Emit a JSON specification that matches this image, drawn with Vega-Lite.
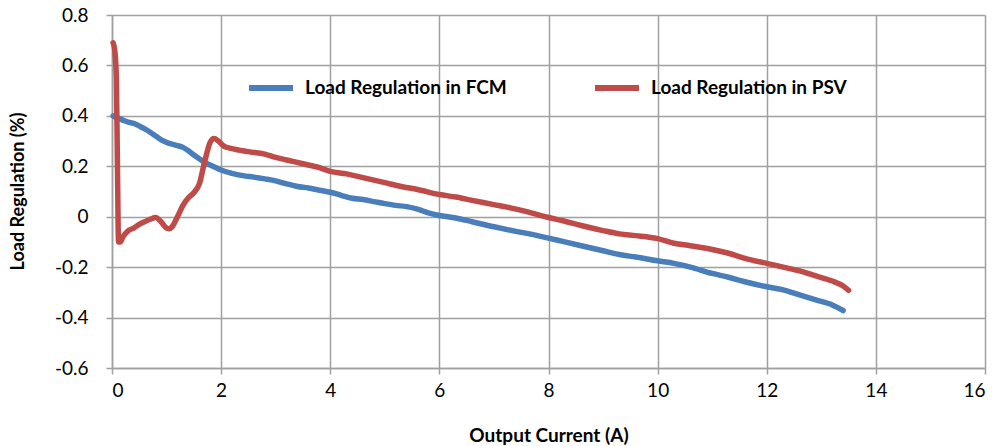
{
  "$schema": "https://vega.github.io/schema/vega-lite/v6.json",
  "width": 873,
  "height": 353,
  "autosize": {"type": "none"},
  "padding": {"left": 112, "top": 15, "right": 10, "bottom": 78},
  "background": "white",
  "config": {
    "view": {"stroke": null},
    "font": "Lato"
  },
  "datasets": {
    "fcm": [
      {"x": 0.02, "y": 0.40}, {"x": 0.1, "y": 0.392}, {"x": 0.2, "y": 0.383}, {"x": 0.3, "y": 0.375},
      {"x": 0.4, "y": 0.37}, {"x": 0.5, "y": 0.36}, {"x": 0.6, "y": 0.348}, {"x": 0.7, "y": 0.335},
      {"x": 0.8, "y": 0.32}, {"x": 0.9, "y": 0.305}, {"x": 1.0, "y": 0.295}, {"x": 1.1, "y": 0.288},
      {"x": 1.2, "y": 0.282}, {"x": 1.3, "y": 0.275}, {"x": 1.4, "y": 0.262}, {"x": 1.5, "y": 0.245},
      {"x": 1.6, "y": 0.23}, {"x": 1.7, "y": 0.215}, {"x": 1.8, "y": 0.205}, {"x": 1.9, "y": 0.195},
      {"x": 2.0, "y": 0.185}, {"x": 2.2, "y": 0.172}, {"x": 2.4, "y": 0.163}, {"x": 2.6, "y": 0.157},
      {"x": 2.8, "y": 0.15}, {"x": 3.0, "y": 0.142}, {"x": 3.2, "y": 0.13}, {"x": 3.4, "y": 0.12},
      {"x": 3.6, "y": 0.114}, {"x": 3.8, "y": 0.105}, {"x": 4.0, "y": 0.097}, {"x": 4.2, "y": 0.085},
      {"x": 4.4, "y": 0.073}, {"x": 4.6, "y": 0.068}, {"x": 4.8, "y": 0.06}, {"x": 5.0, "y": 0.052},
      {"x": 5.2, "y": 0.045}, {"x": 5.4, "y": 0.04}, {"x": 5.6, "y": 0.03}, {"x": 5.8, "y": 0.015},
      {"x": 6.0, "y": 0.005}, {"x": 6.3, "y": -0.005}, {"x": 6.6, "y": -0.02}, {"x": 7.0, "y": -0.04},
      {"x": 7.4, "y": -0.058}, {"x": 7.7, "y": -0.07}, {"x": 8.0, "y": -0.085}, {"x": 8.3, "y": -0.1},
      {"x": 8.6, "y": -0.115}, {"x": 9.0, "y": -0.135}, {"x": 9.3, "y": -0.15}, {"x": 9.6, "y": -0.16},
      {"x": 10.0, "y": -0.175}, {"x": 10.3, "y": -0.185}, {"x": 10.6, "y": -0.2}, {"x": 11.0, "y": -0.225},
      {"x": 11.3, "y": -0.24}, {"x": 11.6, "y": -0.258}, {"x": 12.0, "y": -0.278}, {"x": 12.3, "y": -0.29},
      {"x": 12.6, "y": -0.31}, {"x": 12.9, "y": -0.33}, {"x": 13.2, "y": -0.35}, {"x": 13.4, "y": -0.372}
    ],
    "psv": [
      {"x": 0.02, "y": 0.69}, {"x": 0.05, "y": 0.66}, {"x": 0.08, "y": 0.55}, {"x": 0.10, "y": 0.2},
      {"x": 0.12, "y": -0.10}, {"x": 0.15, "y": -0.10}, {"x": 0.2, "y": -0.08}, {"x": 0.3, "y": -0.055},
      {"x": 0.4, "y": -0.045}, {"x": 0.5, "y": -0.03}, {"x": 0.6, "y": -0.02}, {"x": 0.7, "y": -0.01},
      {"x": 0.8, "y": -0.003}, {"x": 0.9, "y": -0.02}, {"x": 1.0, "y": -0.045}, {"x": 1.05, "y": -0.048},
      {"x": 1.1, "y": -0.04}, {"x": 1.2, "y": 0.0}, {"x": 1.3, "y": 0.045}, {"x": 1.4, "y": 0.075},
      {"x": 1.5, "y": 0.095}, {"x": 1.6, "y": 0.13}, {"x": 1.7, "y": 0.22}, {"x": 1.8, "y": 0.295},
      {"x": 1.87, "y": 0.31}, {"x": 1.95, "y": 0.30}, {"x": 2.05, "y": 0.28}, {"x": 2.2, "y": 0.27},
      {"x": 2.5, "y": 0.258}, {"x": 2.8, "y": 0.248}, {"x": 3.0, "y": 0.235}, {"x": 3.2, "y": 0.225},
      {"x": 3.5, "y": 0.21}, {"x": 3.8, "y": 0.195}, {"x": 4.0, "y": 0.18}, {"x": 4.3, "y": 0.17},
      {"x": 4.6, "y": 0.155}, {"x": 5.0, "y": 0.135}, {"x": 5.3, "y": 0.12}, {"x": 5.6, "y": 0.108},
      {"x": 6.0, "y": 0.088}, {"x": 6.3, "y": 0.078}, {"x": 6.6, "y": 0.065}, {"x": 7.0, "y": 0.048},
      {"x": 7.3, "y": 0.035}, {"x": 7.6, "y": 0.02}, {"x": 8.0, "y": -0.003}, {"x": 8.3, "y": -0.018},
      {"x": 8.6, "y": -0.035}, {"x": 9.0, "y": -0.055}, {"x": 9.3, "y": -0.068}, {"x": 9.6, "y": -0.075},
      {"x": 10.0, "y": -0.087}, {"x": 10.3, "y": -0.105}, {"x": 10.6, "y": -0.115}, {"x": 11.0, "y": -0.13},
      {"x": 11.3, "y": -0.145}, {"x": 11.6, "y": -0.165}, {"x": 12.0, "y": -0.185}, {"x": 12.3, "y": -0.2},
      {"x": 12.6, "y": -0.215}, {"x": 12.9, "y": -0.235}, {"x": 13.2, "y": -0.255}, {"x": 13.4, "y": -0.275},
      {"x": 13.5, "y": -0.292}
    ]
  },
  "layer": [
    {
      "data": {"name": "fcm"},
      "transform": [{"calculate": "'Load Regulation in FCM'", "as": "series"}],
      "mark": {"type": "line", "strokeWidth": 5.5, "strokeCap": "round", "strokeJoin": "round", "interpolate": "monotone"},
      "encoding": {
        "x": {"field": "x", "type": "quantitative"},
        "y": {"field": "y", "type": "quantitative"},
        "color": {"field": "series", "type": "nominal"}
      }
    },
    {
      "data": {"name": "psv"},
      "transform": [{"calculate": "'Load Regulation in PSV'", "as": "series"}],
      "mark": {"type": "line", "strokeWidth": 5.5, "strokeCap": "round", "strokeJoin": "round", "interpolate": "monotone"},
      "encoding": {
        "x": {"field": "x", "type": "quantitative"},
        "y": {"field": "y", "type": "quantitative"},
        "color": {"field": "series", "type": "nominal"}
      }
    }
  ],
  "encoding": {
    "x": {
      "field": "x", "type": "quantitative",
      "scale": {"domain": [0, 16], "nice": false, "zero": false},
      "axis": {
        "title": "Output Current (A)", "values": [0, 2, 4, 6, 8, 10, 12, 14, 16],
        "grid": true, "gridColor": "#a0a0a0", "gridWidth": 1.5,
        "domainColor": "#a0a0a0", "domainWidth": 1.5,
        "tickColor": "#a0a0a0", "tickWidth": 1.5, "tickSize": 6,
        "labelFontSize": 19, "labelColor": "#000", "labelPadding": 7,
        "titleFontSize": 19, "titleFontWeight": "bold", "titleColor": "#000",
        "titleY": 73, "titleBaseline": "alphabetic"
      }
    },
    "y": {
      "field": "y", "type": "quantitative",
      "scale": {"domain": [-0.6, 0.8], "nice": false, "zero": false},
      "axis": {
        "title": "Load Regulation (%)", "values": [-0.6, -0.4, -0.2, 0, 0.2, 0.4, 0.6, 0.8],
        "labelExpr": "datum.value == 0 ? '0' : (datum.value < 0 ? '-' + format(-datum.value, '.1f') : format(datum.value, '.1f'))",
        "grid": true, "gridColor": "#a0a0a0", "gridWidth": 1.5,
        "domainColor": "#a0a0a0", "domainWidth": 1.5,
        "tickColor": "#a0a0a0", "tickWidth": 1.5, "tickSize": 6,
        "labelFontSize": 19, "labelColor": "#000", "labelPadding": 18,
        "titleFontSize": 18, "titleFontWeight": "bold", "titleColor": "#000",
        "titleX": -94, "titleY": 176, "titleAngle": -90, "titleBaseline": "middle", "titleAlign": "center"
      }
    },
    "color": {
      "field": "series", "type": "nominal",
      "scale": {"domain": ["Load Regulation in FCM", "Load Regulation in PSV"], "range": ["#4a7ebb", "#be4b48"]},
      "legend": {
        "title": null, "orient": "none", "direction": "horizontal",
        "legendX": 134, "legendY": 48,
        "symbolType": "stroke", "symbolSize": 1936, "symbolStrokeWidth": 6,
        "labelFontSize": 19, "labelFontWeight": "bold", "labelColor": "#000", "labelOffset": 9,
        "columnPadding": 76, "labelLimit": 400
      }
    }
  }
}
